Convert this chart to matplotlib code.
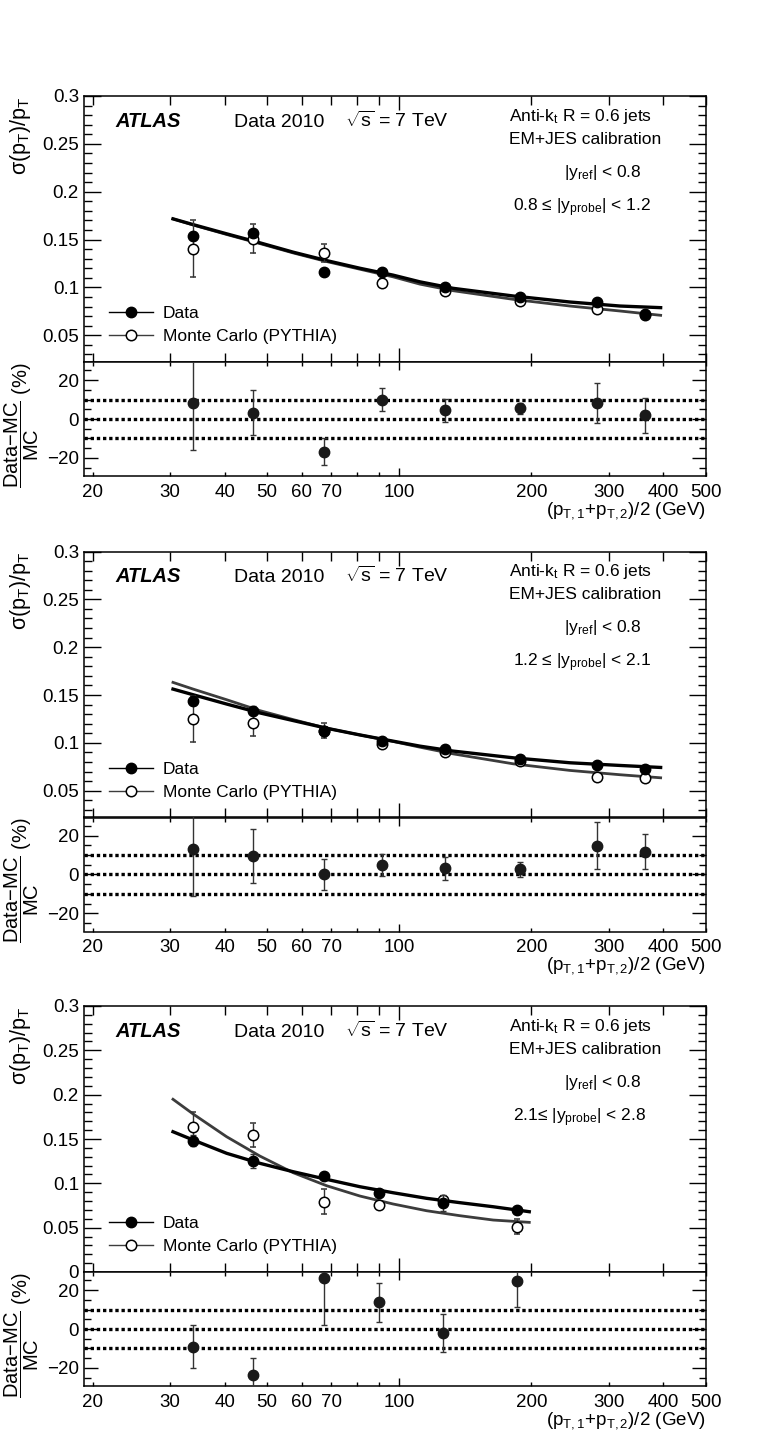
import matplotlib
matplotlib.use("Agg")
import matplotlib.pyplot as plt
from matplotlib.lines import Line2D
from matplotlib.ticker import LogLocator, FuncFormatter, MultipleLocator, NullFormatter

plt.rcParams["font.family"] = ["Liberation Sans", "DejaVu Sans"]
plt.rcParams["mathtext.fontset"] = "custom"
plt.rcParams["mathtext.rm"] = "Liberation Sans"
plt.rcParams["mathtext.it"] = "Liberation Sans:italic"
plt.rcParams["mathtext.bf"] = "Liberation Sans:bold"
plt.rcParams["mathtext.sf"] = "Liberation Sans"

# pT bin centres (GeV)
pt_central = [33.9, 46.5, 67.3, 91.1, 127.0, 188.3, 281.7, 362.9]
pt_forward = [33.9, 46.5, 67.3, 90.0, 125.9, 185.1]

# --- 0.8 <= |y_probe| < 1.2
data_1 = [0.1534, 0.1563, 0.116, 0.116, 0.1007, 0.0903, 0.0851, 0.0719]
data_err_1 = [0.004, 0.004, 0.003, 0.003, 0.002, 0.002, 0.002, 0.002]
mc_1 = [0.1406, 0.151, 0.136, 0.1049, 0.0962, 0.086, 0.0771, 0.0708]
mc_err_1 = [0.030, 0.015, 0.0095, 0.004, 0.003, 0.003, 0.003, 0.003]
ratio_1 = [8.3, 3.2, -16.9, 10.0, 4.4, 5.4, 8.3, 1.8]
ratio_err_1 = [24, 11.6, 7, 5.7, 6, 3, 10.3, 9]

# --- 1.2 <= |y_probe| < 2.1
data_2 = [0.1441, 0.1337, 0.1128, 0.1024, 0.0937, 0.0833, 0.0771, 0.0722]
data_err_2 = [0.005, 0.005, 0.004, 0.003, 0.003, 0.003, 0.003, 0.003]
mc_2 = [0.125, 0.1205, 0.1128, 0.099, 0.0903, 0.0813, 0.0643, 0.0632]
mc_err_2 = [0.024, 0.0135, 0.0077, 0.003, 0.003, 0.003, 0.003, 0.003]
ratio_2 = [13.2, 9.6, 0.0, 4.7, 3.1, 2.6, 14.8, 11.7]
ratio_err_2 = [24, 14, 8, 5.6, 6, 4, 12, 9]

# --- 2.1 <= |y_probe| < 2.8
data_3 = [0.1481, 0.1252, 0.1083, 0.0887, 0.0782, 0.0699]
data_err_3 = [0.0065, 0.008, 0.003, 0.003, 0.009, 0.003]
mc_3 = [0.1639, 0.1545, 0.0793, 0.0756, 0.0812, 0.0511]
mc_err_3 = [0.017, 0.014, 0.014, 0.004, 0.004, 0.0083]
ratio_3 = [-9.2, -23.8, 26.0, 13.8, -2.0, 24.8]
ratio_err_3 = [11, 9, 24, 10, 9.7, 13.5]

# fitted resolution curves
fit_x = [30.5, 33.9, 40.4, 48.1, 57.3, 68.3, 81.3, 96.8, 111.4, 132.7, 181.8, 244.8, 318.4, 394.1]
data_fit_1 = [0.1716, 0.1656, 0.156, 0.1466, 0.1368, 0.128, 0.120, 0.1128, 0.1058, 0.0990, 0.0910, 0.0847, 0.0805, 0.0788]
mc_fit_1 = [0.1716, 0.1652, 0.1553, 0.1458, 0.136, 0.127, 0.119, 0.111, 0.1034, 0.0965, 0.0875, 0.0805, 0.0753, 0.0708]
data_fit_2 = [0.1562, 0.1503, 0.1406, 0.1313, 0.1233, 0.1153, 0.1083, 0.1018, 0.0966, 0.0914, 0.0844, 0.0792, 0.0764, 0.0743]
mc_fit_2 = [0.1632, 0.1562, 0.1451, 0.1337, 0.1243, 0.1153, 0.1083, 0.1015, 0.0955, 0.0885, 0.0781, 0.0712, 0.0667, 0.0635]
fit_x_fwd = [30.5, 33.9, 40.4, 48.1, 57.3, 68.3, 81.3, 96.8, 115.4, 137.4, 163.7, 197.8]
data_fit_3 = [0.1582, 0.1489, 0.1339, 0.1226, 0.1131, 0.1045, 0.0962, 0.0894, 0.0831, 0.0782, 0.0736, 0.068]
mc_fit_3 = [0.1948, 0.1782, 0.1526, 0.1308, 0.112, 0.0973, 0.0857, 0.0767, 0.0691, 0.0635, 0.0586, 0.056]

probe_labels = [r"0.8 ≤ |$\mathrm{y_{probe}}$| < 1.2",
                r"1.2 ≤ |$\mathrm{y_{probe}}$| < 2.1",
                r"2.1≤ |$\mathrm{y_{probe}}$| < 2.8"]
ratio_lines = [-10, 0, 10]
x_labelled = [20, 30, 40, 50, 60, 70, 100, 200, 300, 400, 500]

panels = [
    (pt_central, data_1, data_err_1, mc_1, mc_err_1, ratio_1, ratio_err_1, fit_x, data_fit_1, mc_fit_1, 0.022),
    (pt_central, data_2, data_err_2, mc_2, mc_err_2, ratio_2, ratio_err_2, fit_x, data_fit_2, mc_fit_2, 0.022),
    (pt_forward, data_3, data_err_3, mc_3, mc_err_3, ratio_3, ratio_err_3, fit_x_fwd, data_fit_3, mc_fit_3, 0.0),
]

MC_GREY = "#3c3c3c"
W, H = 773, 1439
left_px, right_px = 83.8, 706
tops = [96, 551.5, 1006]
main_h, ratio_h = 266, 114


def x_fmt(v, pos):
    for t in x_labelled:
        if abs(v - t) < 1e-6 * t:
            return "%d" % t
    return ""


def y_fmt(v, pos):
    if abs(v) < 1e-9:
        return "0"
    return ("%.2f" % v).rstrip("0").rstrip(".")


def style_axis(ax, ratio=False):
    ax.set_xscale("log")
    ax.set_xlim(19.1, 500)
    ax.xaxis.set_major_locator(LogLocator(base=10))
    ax.xaxis.set_minor_locator(LogLocator(base=10, subs=range(2, 10)))
    for s in ax.spines.values():
        s.set_linewidth(1.1)
    if ratio:
        ax.xaxis.set_major_formatter(FuncFormatter(x_fmt))
        ax.xaxis.set_minor_formatter(FuncFormatter(x_fmt))
        ax.tick_params(axis="x", which="major", length=6, pad=5.5)
        ax.tick_params(axis="x", which="minor", length=3, pad=5.5)
        ax.tick_params(axis="y", which="major", length=10, pad=3.5)
        ax.tick_params(axis="y", which="minor", length=4.8)
        ax.yaxis.set_major_locator(MultipleLocator(20))
        ax.yaxis.set_minor_locator(MultipleLocator(5))
    else:
        ax.xaxis.set_major_formatter(NullFormatter())
        ax.xaxis.set_minor_formatter(NullFormatter())
        ax.tick_params(axis="x", which="major", length=10)
        ax.tick_params(axis="x", which="minor", length=6.5)
        ax.tick_params(axis="y", which="major", length=12.5, pad=3.5)
        ax.tick_params(axis="y", which="minor", length=6)
        ax.yaxis.set_major_locator(MultipleLocator(0.05))
        ax.yaxis.set_minor_locator(MultipleLocator(0.01))
        ax.yaxis.set_major_formatter(FuncFormatter(y_fmt))
    ax.tick_params(which="both", direction="in", top=True, right=True, width=1.0,
                   labelsize=13.5)


fig = plt.figure(figsize=(W / 100, H / 100), dpi=100)

for i, (xs, dat, dat_err, mc, mc_err, rat, rat_err, fx, dfit, mfit, ymin) in enumerate(panels):
    top = tops[i]
    ax = fig.add_axes([left_px / W, 1 - (top + main_h) / H, (right_px - left_px) / W, main_h / H])
    axr = fig.add_axes([left_px / W, 1 - (top + main_h + ratio_h) / H, (right_px - left_px) / W, ratio_h / H])

    # main panel: fits, MC and data
    ax.plot(fx, mfit, color=MC_GREY, lw=2.0, zorder=2)
    ax.plot(fx, dfit, color="black", lw=2.4, zorder=2)
    ax.errorbar(xs, mc, yerr=mc_err, fmt="o", ms=7.5, mfc="white", mec="black", mew=1.1,
                ecolor="#333333", elinewidth=1.0, capsize=2, capthick=1.0, zorder=3)
    ax.errorbar(xs, dat, yerr=dat_err, fmt="o", ms=7.5, color="black",
                ecolor="#333333", elinewidth=1.0, capsize=2, capthick=1.0, zorder=4)
    style_axis(ax)
    ax.set_ylim(ymin, 0.3)

    ax.text(0.0516, 0.885, "ATLAS", transform=ax.transAxes, fontsize=14.5,
            fontweight="bold", fontstyle="italic", va="baseline")
    ax.text(0.2417, 0.885, "Data 2010", transform=ax.transAxes, fontsize=14, va="baseline")
    ax.text(0.4198, 0.885, r"$\sqrt{\mathrm{s}}$ = 7 TeV", transform=ax.transAxes,
            fontsize=14, va="baseline")
    ax.text(0.684, 0.9075, r"Anti-$\mathrm{k_{t}}$ R = 0.6 jets", transform=ax.transAxes,
            fontsize=12.5, va="baseline")
    ax.text(0.684, 0.820, "EM+JES calibration", transform=ax.transAxes,
            fontsize=12.5, va="baseline")
    ax.text(0.771, 0.6955, r"|$\mathrm{y_{ref}}$| < 0.8", transform=ax.transAxes,
            fontsize=12.5, va="baseline")
    ax.text(0.6895, 0.5667, probe_labels[i], transform=ax.transAxes,
            fontsize=12.5, va="baseline")

    handles = [
        Line2D([], [], color="black", lw=1.0, marker="o", ms=7.5, mfc="black"),
        Line2D([], [], color=MC_GREY, lw=1.0, marker="o", ms=7.5, mfc="white", mec="black", mew=1.1),
    ]
    ax.legend(handles, ["Data", "Monte Carlo (PYTHIA)"], loc="center left",
              bbox_to_anchor=(0.0397, 0.139), frameon=False, fontsize=12.5,
              borderpad=0, borderaxespad=0, handlelength=2.56, handletextpad=0.56,
              labelspacing=0.45)

    ax.text(-0.1025, 1.0, r"$\mathrm{\sigma(p_{T})/p_{T}}$", transform=ax.transAxes,
            rotation=90, ha="center", va="top", fontsize=15.5)

    # ratio panel
    for yl in ratio_lines:
        axr.axhline(yl, color="black", lw=2.4, linestyle=(0, (1, 0.85)), zorder=1)
    axr.errorbar(xs, rat, yerr=rat_err, fmt="o", ms=7.5, color="#1a1a1a",
                 ecolor="#333333", elinewidth=1.0, capsize=2, capthick=1.0, zorder=3)
    style_axis(axr, ratio=True)
    axr.set_ylim(-29.3, 29.3)
    axr.text(-0.1, 1.0, r"$\dfrac{\mathrm{Data{-}MC}}{\mathrm{MC}}$ (%)", transform=axr.transAxes,
             rotation=90, ha="center", va="top", fontsize=14.5)
    axr.text(1.0, -0.335, r"$\mathrm{(p_{T,1}{+}p_{T,2})/2\ (GeV)}$", transform=axr.transAxes,
             ha="right", va="baseline", fontsize=13.5)

fig.savefig("out.png", dpi=100)
